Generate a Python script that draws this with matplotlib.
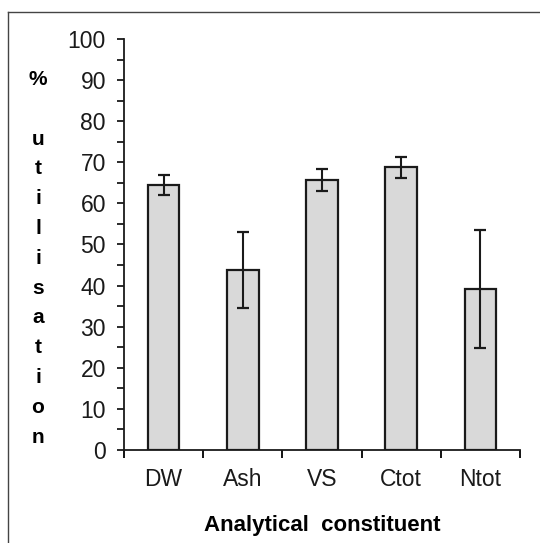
import numpy as np
import matplotlib
matplotlib.use('Agg')
import matplotlib.pyplot as plt
from matplotlib.lines import Line2D

plt.rcParams['font.family'] = ['Liberation Sans', 'DejaVu Sans']

# data
constituents = ['DW', 'Ash', 'VS', 'Ctot', 'Ntot']
utilisation = [64.5, 43.8, 65.7, 68.8, 39.2]
errors = [2.5, 9.3, 2.7, 2.6, 14.3]

fig = plt.figure(figsize=(5.4, 5.43), dpi=100)
ax = fig.add_axes([0.2296, 0.1713, 0.7334, 0.7569])

x = np.arange(len(constituents))
ax.bar(x, utilisation, width=0.4, color='#d9d9d9', edgecolor='#1a1a1a',
       linewidth=1.6, zorder=2)
ax.errorbar(x, utilisation, yerr=errors, fmt='none', ecolor='#1a1a1a',
            elinewidth=1.5, capsize=4.5, capthick=1.6, zorder=3)

ax.set_xlim(-0.5, len(constituents) - 0.5)
ax.set_ylim(0, 100)
ax.set_yticks(np.arange(0, 101, 10))
ax.set_yticks(np.arange(5, 100, 10), minor=True)
ax.tick_params(axis='y', which='both', direction='out', length=5, width=1.3,
               labelsize=16.5, pad=8, colors='#1a1a1a')

# ticks at category boundaries, labels at centres
ax.set_xticks(np.arange(-0.5, len(constituents), 1))
ax.set_xticklabels([])
ax.set_xticks(x, minor=True)
ax.tick_params(axis='x', which='major', direction='out', length=6, width=1.3)
ax.set_xticklabels(constituents, minor=True)
ax.tick_params(axis='x', which='minor', length=0, labelsize=16.5, pad=13,
               colors='#1a1a1a')

for s in ['top', 'right']:
    ax.spines[s].set_visible(False)
for s in ['left', 'bottom']:
    ax.spines[s].set_linewidth(1.3)
    ax.spines[s].set_color('#1a1a1a')

ax.set_xlabel('Analytical  constituent', fontsize=16, fontweight='bold',
              labelpad=17)

ylab = '%\n\n' + '\n'.join('utilisation')
fig.text(38 / 540, 1 - 70 / 543, ylab, fontsize=15, fontweight='bold',
         ha='center', va='top', linespacing=1.72)

# outer frame (cropped at right and bottom)
fig.add_artist(Line2D([8 / 540, 8 / 540], [0, 1 - 12 / 543],
                      transform=fig.transFigure, color='#444444', lw=1))
fig.add_artist(Line2D([8 / 540, 1], [1 - 12 / 543, 1 - 12 / 543],
                      transform=fig.transFigure, color='#444444', lw=1))

fig.savefig('out.png', dpi=100)
